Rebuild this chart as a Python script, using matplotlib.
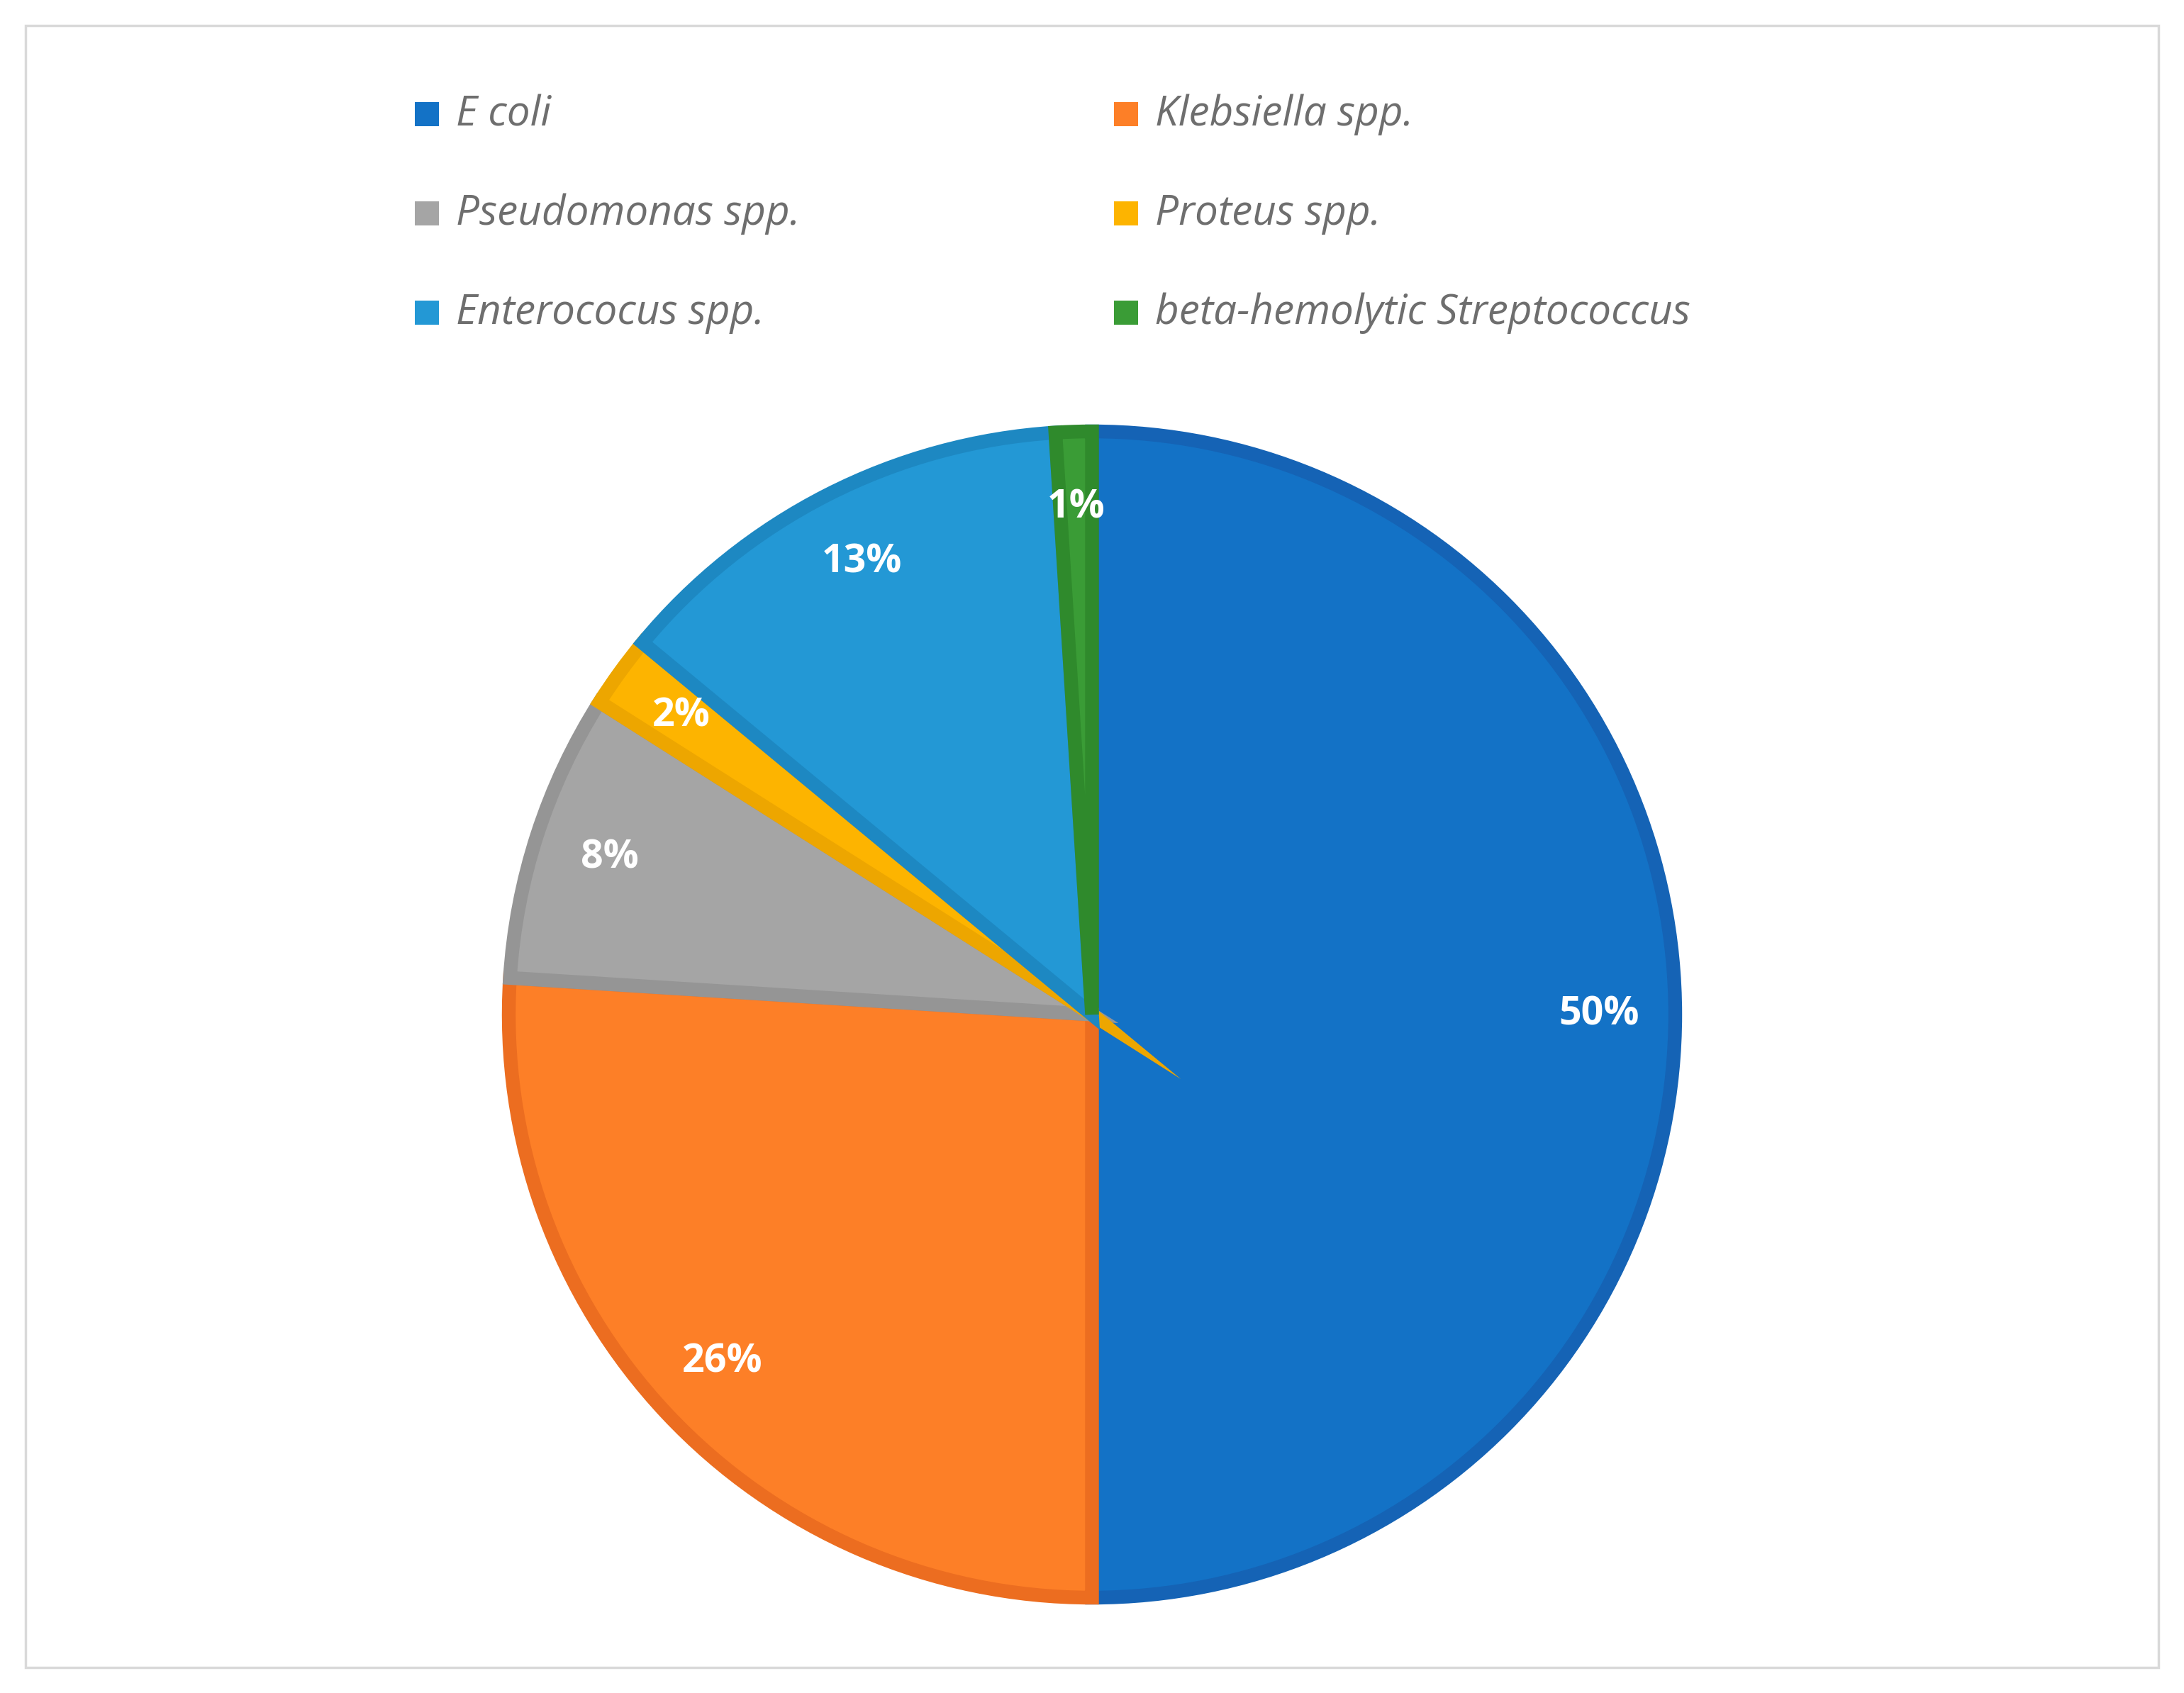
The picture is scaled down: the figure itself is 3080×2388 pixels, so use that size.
import matplotlib.pyplot as plt
from matplotlib.patches import Rectangle

# 数据
labels = ["E coli", "Klebsiella spp.", "Pseudomonas spp.", "Proteus spp.",
          "Enterococus spp.", "beta-hemolytic Streptococcus"]
values = [50, 26, 8, 2, 13, 1]
colors = ["#1372C6", "#FD7F27", "#A5A5A5", "#FDB400", "#2398D5", "#3A9C36"]
edges = ["#1563B5", "#EC6D20", "#959595", "#EDA600", "#1D88C2", "#2F8A2C"]

W, H = 3080, 2388
fig = plt.figure(figsize=(W / 100, H / 100), dpi=100)
fig.patch.set_facecolor("white")
fig.patches.append(Rectangle((36 / W, 36 / H), 1 - 72 / W, 1 - 72 / H,
                             transform=fig.transFigure, fill=False,
                             edgecolor="#D9D9D9", linewidth=2.5))

# 饼图区域 (中心约在 0.5, 0.401)
cx, cy, r = 1540, H - 1431, 835
ax = fig.add_axes([(cx - r) / W, (cy - r) / H, 2 * r / W, 2 * r / H])
wedges, texts, autotexts = ax.pie(
    values, colors=colors, startangle=90, counterclock=False,
    autopct="%1.0f%%", pctdistance=0.87, radius=0.985,
    wedgeprops=dict(linewidth=14, joinstyle="miter"),
    textprops=dict(color="white", fontsize=40, fontweight="bold", family="Open Sans"))
for w, e in zip(wedges, edges):
    w.set_edgecolor(e)
ax.set_xlim(-1, 1)
ax.set_ylim(-1, 1)
ax.axis("off")

# 图例 (两列)
col_x = [0.19, 0.51]
row_y = [1 - 162 / H, 1 - 302 / H, 1 - 442 / H]
for i, (lab, c) in enumerate(zip(labels, colors)):
    x = col_x[i % 2]
    y = row_y[i // 2]
    fig.patches.append(Rectangle((x, y - 16 / H), 34 / W, 34 / H,
                                 transform=fig.transFigure, facecolor=c, edgecolor="none"))
    fig.text(x + 58 / W, y, lab, fontsize=42, style="italic", color="#6E6E6E",
             va="center", ha="left", family="Open Sans")

fig.savefig("out.png", dpi=100)
